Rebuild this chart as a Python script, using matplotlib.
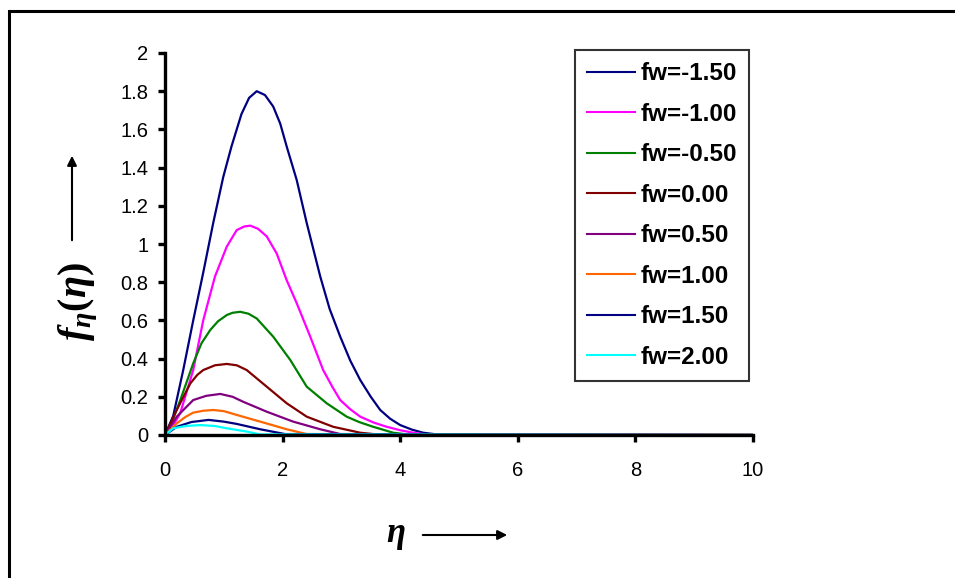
import numpy as np
import matplotlib
matplotlib.use("Agg")
import matplotlib.pyplot as plt
from matplotlib.patches import Rectangle, FancyArrowPatch

plt.rcParams['font.family'] = ['Liberation Sans', 'DejaVu Sans']
plt.rcParams['mathtext.fontset'] = 'custom'
plt.rcParams['mathtext.it'] = 'Liberation Serif:bold:italic'
plt.rcParams['mathtext.rm'] = 'Liberation Serif:bold'

# ---- data (eta, f_eta) ----
labels = ["fw=-1.50", "fw=-1.00", "fw=-0.50", "fw=0.00",
          "fw=0.50", "fw=1.00", "fw=1.50", "fw=2.00"]
colors = ["#000080", "#FF00FF", "#008000", "#800000",
          "#800080", "#FF6600", "#000080", "#00FFFF"]

eta_m150 = [0, 0.14, 0.31, 0.48, 0.65, 0.82, 0.99, 1.13, 1.30, 1.43, 1.56, 1.70, 1.84,
            1.96, 2.07, 2.24, 2.41, 2.64, 2.80, 2.98, 3.15, 3.32, 3.50, 3.66, 3.83,
            4.00, 4.20, 4.39, 4.7, 10]
f_m150 = [0, 0.10, 0.34, 0.60, 0.85, 1.11, 1.35, 1.51, 1.68, 1.765, 1.80, 1.78, 1.72,
          1.63, 1.51, 1.335, 1.11, 0.83, 0.66, 0.515, 0.39, 0.288, 0.20, 0.131, 0.085,
          0.052, 0.028, 0.012, 0.0, 0.0]

eta_m100 = [0, 0.12, 0.26, 0.48, 0.65, 0.85, 1.05, 1.22, 1.35, 1.45, 1.58, 1.73, 1.90,
            2.07, 2.24, 2.47, 2.69, 2.85, 2.98, 3.15, 3.32, 3.55, 3.77, 4.0, 4.22, 4.5, 10]
f_m100 = [0, 0.04, 0.115, 0.34, 0.60, 0.83, 0.986, 1.073, 1.092, 1.096, 1.08, 1.04, 0.95,
          0.81, 0.69, 0.515, 0.34, 0.25, 0.183, 0.135, 0.096, 0.065, 0.043, 0.025, 0.012, 0.0, 0.0]

eta_m050 = [0, 0.12, 0.26, 0.48, 0.62, 0.77, 0.90, 1.05, 1.15, 1.28, 1.42, 1.56, 1.84,
            2.13, 2.41, 2.75, 3.09, 3.30, 3.54, 3.88, 4.2, 10]
f_m050 = [0, 0.07, 0.183, 0.375, 0.48, 0.55, 0.595, 0.628, 0.640, 0.645, 0.635, 0.61, 0.515,
          0.393, 0.253, 0.166, 0.096, 0.068, 0.043, 0.012, 0.0, 0.0]

eta_000 = [0, 0.20, 0.43, 0.55, 0.65, 0.85, 1.05, 1.22, 1.39, 1.73, 2.07, 2.41, 2.86,
           3.32, 3.7, 10]
f_000 = [0, 0.131, 0.27, 0.315, 0.34, 0.365, 0.372, 0.365, 0.34, 0.253, 0.166, 0.096, 0.043,
         0.012, 0.0, 0.0]

eta_050 = [0, 0.20, 0.48, 0.70, 0.94, 1.15, 1.33, 1.73, 2.18, 2.64, 2.98, 10]
f_050 = [0, 0.096, 0.183, 0.205, 0.215, 0.20, 0.174, 0.122, 0.07, 0.03, 0.005, 0.0]

eta_100 = [0, 0.20, 0.35, 0.48, 0.65, 0.82, 1.00, 1.22, 1.62, 2.07, 2.41, 10]
f_100 = [0, 0.061, 0.095, 0.117, 0.127, 0.131, 0.125, 0.105, 0.07, 0.03, 0.005, 0.0]

eta_150 = [0, 0.20, 0.45, 0.74, 1.00, 1.22, 1.62, 2.04, 10]
f_150 = [0, 0.043, 0.068, 0.079, 0.07, 0.058, 0.03, 0.005, 0.0]

eta_200 = [0, 0.14, 0.35, 0.60, 0.85, 1.05, 1.39, 1.62, 10]
f_200 = [0, 0.035, 0.047, 0.052, 0.047, 0.035, 0.018, 0.003, 0.0]

etas = [eta_m150, eta_m100, eta_m050, eta_000, eta_050, eta_100, eta_150, eta_200]
fs = [f_m150, f_m100, f_m050, f_000, f_050, f_100, f_150, f_200]

x_ticks = [0, 2, 4, 6, 8, 10]
y_ticks = [0, 0.2, 0.4, 0.6, 0.8, 1, 1.2, 1.4, 1.6, 1.8, 2]

# ---- figure ----
fig = plt.figure(figsize=(9.55, 5.78), dpi=100)
fig.patches.append(Rectangle((9/955, -0.2), 1.2, (578-11)/578 + 0.2,
                             transform=fig.transFigure, fill=False,
                             edgecolor="black", linewidth=2.2))
ax = fig.add_axes([165/955, 1-435/578, (753-165)/955, (435-53)/578])

for e, f, c, lab in zip(etas, fs, colors, labels):
    ax.plot(e, f, color=c, linewidth=1.6, label=lab)

ax.set_xlim(0, 10)
ax.set_ylim(0, 2)
ax.set_xticks(x_ticks)
ax.set_yticks(y_ticks)
ax.set_xticklabels([f"{v:g}" for v in x_ticks])
ax.set_yticklabels([f"{v:g}" for v in y_ticks])
ax.spines["top"].set_visible(False)
ax.spines["right"].set_visible(False)
for s in ("left", "bottom"):
    ax.spines[s].set_linewidth(2.4)
ax.tick_params(axis="both", width=2.4, length=5, labelsize=14.5)
ax.tick_params(axis="x", pad=14)
ax.tick_params(axis="y", pad=7)

leg = ax.legend(loc="upper left", bbox_to_anchor=((575-165)/588, (435-50)/382),
                borderaxespad=0, frameon=True, fancybox=False,
                prop={"weight": "bold", "size": 17.5},
                handlelength=1.95, handletextpad=0.25, labelspacing=0.72,
                borderpad=0.5)
leg.get_frame().set_edgecolor("black")
leg.get_frame().set_linewidth(1.5)
for h in leg.get_lines():
    h.set_linewidth(1.5)

# axis titles with arrows
fig.text(78/955, 1-302/578, r"$f_{\eta}(\eta)$", rotation=90, fontsize=29,
         ha="center", va="center")
fig.add_artist(FancyArrowPatch(
    (72/955, 1-243/578), (72/955, 1-153/578), transform=fig.transFigure,
    arrowstyle="-|>", mutation_scale=14, linewidth=1.5, color="black"))
fig.text(396/955, 1-536/578, r"$\eta$", fontsize=25, ha="center", va="center")
fig.add_artist(FancyArrowPatch(
    (420/955, 1-535/578), (510/955, 1-535/578), transform=fig.transFigure,
    arrowstyle="-|>", mutation_scale=14, linewidth=1.5, color="black"))

fig.savefig("out.png", dpi=100)
